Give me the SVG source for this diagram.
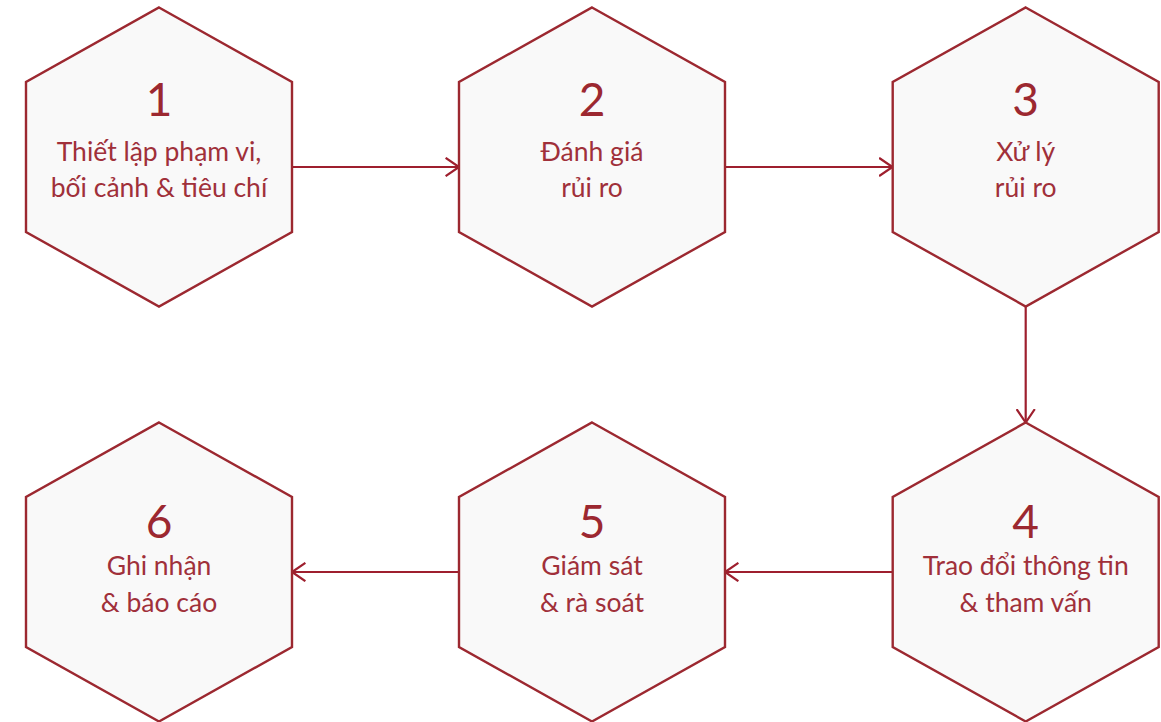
<svg xmlns="http://www.w3.org/2000/svg" width="1161" height="722" viewBox="0 0 1161 722">
  <style>
    .hex { fill: #f9f9f9; stroke: #9c2830; stroke-width: 2.4; }
    .num { font-family: Lato, "Noto Sans", "Liberation Sans", sans-serif; font-size: 46px; fill: #9c2830; text-anchor: middle; }
    .lbl { font-family: Lato, "Noto Sans", "Liberation Sans", sans-serif; font-size: 26.5px; fill: #a0303a; text-anchor: middle; }
    .conn { stroke: #9e1f2e; stroke-width: 2.2; fill: none; }
  </style>
  <defs>
    <marker id="chev" viewBox="-14 -10 16 20" markerWidth="16" markerHeight="20" refX="0" refY="0" orient="auto" markerUnits="userSpaceOnUse">
      <path d="M-12.5,-8.5 L0,0 L-12.5,8.5" fill="none" stroke="#9e1f2e" stroke-width="2.2" stroke-linecap="square"/>
    </marker>
  </defs>
  <rect width="1161" height="722" fill="#ffffff"/>

  <!-- step connectors -->
  <g id="connectors">
    <line class="conn" x1="292" y1="167" x2="459" y2="167" marker-end="url(#chev)"/>
    <line class="conn" x1="725" y1="167" x2="892.5" y2="167" marker-end="url(#chev)"/>
    <line class="conn" x1="1025.7" y1="306.5" x2="1025.7" y2="422.5" marker-end="url(#chev)"/>
    <line class="conn" x1="892.7" y1="572" x2="725" y2="572" marker-end="url(#chev)"/>
    <line class="conn" x1="459" y1="572" x2="292" y2="572" marker-end="url(#chev)"/>
  </g>

  <g id="step1">
    <polygon class="hex" points="159,7.5 292,82 292,232 159,306.5 26,232 26,82"/>
    <text class="num" x="159" y="115.5">1</text>
    <text class="lbl" x="159" y="161">Thiết lập phạm vi,</text>
    <text class="lbl" x="159" y="197">bối cảnh &amp; tiêu chí</text>
  </g>
  <g id="step2">
    <polygon class="hex" points="592,7.5 725,82 725,232 592,306.5 459,232 459,82"/>
    <text class="num" x="592" y="115.5">2</text>
    <text class="lbl" x="592" y="161">Đánh giá</text>
    <text class="lbl" x="592" y="197">rủi ro</text>
  </g>
  <g id="step3">
    <polygon class="hex" points="1025.7,7.5 1158.7,82 1158.7,232 1025.7,306.5 892.7,232 892.7,82"/>
    <text class="num" x="1025.7" y="115.5">3</text>
    <text class="lbl" x="1025.7" y="161">Xử lý</text>
    <text class="lbl" x="1025.7" y="197">rủi ro</text>
  </g>
  <g id="step4">
    <polygon class="hex" points="1025.7,422.5 1158.7,497 1158.7,647 1025.7,721.5 892.7,647 892.7,497"/>
    <text class="num" x="1025.7" y="538">4</text>
    <text class="lbl" x="1025.7" y="575">Trao đổi thông tin</text>
    <text class="lbl" x="1025.7" y="611.5">&amp; tham vấn</text>
  </g>
  <g id="step5">
    <polygon class="hex" points="592,422.5 725,497 725,647 592,721.5 459,647 459,497"/>
    <text class="num" x="592" y="538">5</text>
    <text class="lbl" x="592" y="575">Giám sát</text>
    <text class="lbl" x="592" y="611.5">&amp; rà soát</text>
  </g>
  <g id="step6">
    <polygon class="hex" points="159,422.5 292,497 292,647 159,721.5 26,647 26,497"/>
    <text class="num" x="159" y="538">6</text>
    <text class="lbl" x="159" y="575">Ghi nhận</text>
    <text class="lbl" x="159" y="611.5">&amp; báo cáo</text>
  </g>
</svg>
